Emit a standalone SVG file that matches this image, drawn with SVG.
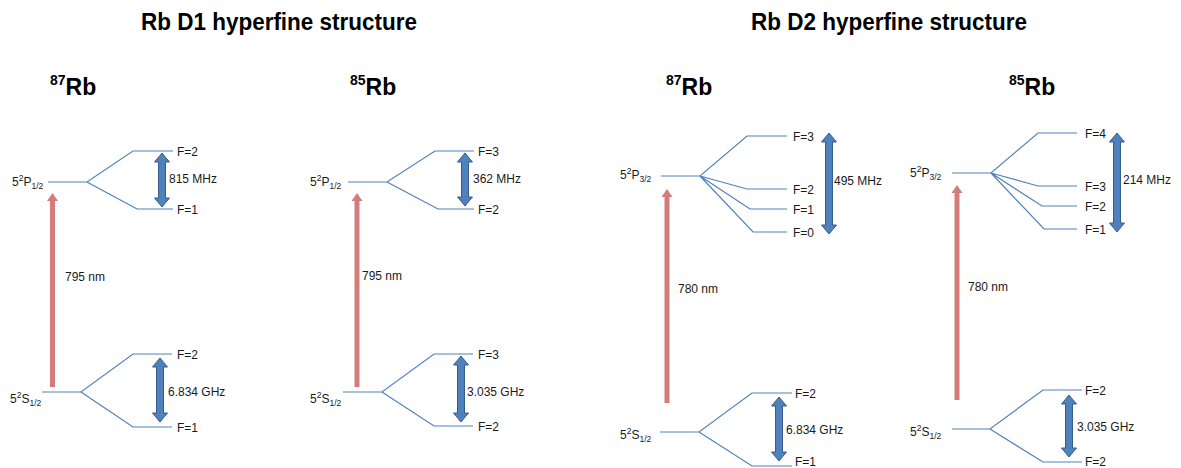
<svg xmlns="http://www.w3.org/2000/svg" width="1181" height="468" viewBox="0 0 1181 468">
<style>
text{font-family:"Liberation Sans",Arial,sans-serif;fill:#1a1a1a}
.t{font-size:12px}
.title{font-size:23px;font-weight:bold;fill:#000}
.iso{font-size:23px;font-weight:bold;fill:#000}
.sup{font-size:14px}
.s8{font-size:8.5px}
.lvl{fill:none;stroke:#4f81bd;stroke-width:1.2}
.split{fill:#4f81bd;stroke:#385d8a;stroke-width:1}
.laser{fill:#d47c7a}
</style>
<rect width="1181" height="468" fill="#fff"/>
<g id="titles">
<text class="title" x="279" y="30" text-anchor="middle" textLength="276" lengthAdjust="spacingAndGlyphs">Rb D1 hyperfine structure</text>
<text class="title" x="889" y="30" text-anchor="middle" textLength="276" lengthAdjust="spacingAndGlyphs">Rb D2 hyperfine structure</text>
</g>
<g id="isotopes">
<text class="iso" x="50" y="95"><tspan class="sup" dy="-10">87</tspan><tspan dy="10">Rb</tspan></text>
<text class="iso" x="350" y="95"><tspan class="sup" dy="-10">85</tspan><tspan dy="10">Rb</tspan></text>
<text class="iso" x="666" y="95"><tspan class="sup" dy="-10">87</tspan><tspan dy="10">Rb</tspan></text>
<text class="iso" x="1009" y="95"><tspan class="sup" dy="-10">85</tspan><tspan dy="10">Rb</tspan></text>
</g>
<g id="connectors">
<path class="lvl" d="M48,182H87L133,151H173M87,182L137,209H173"/>
<path class="lvl" d="M42,392H81L133,354H172M81,392L133,427H172"/>
<path class="lvl" d="M348,182H387L435,151H474M387,182L438,209H474"/>
<path class="lvl" d="M343,392H382L434,354H473M382,392L434,426H473"/>
<path class="lvl" d="M661,176H700L747,136H787M700,176L747,189H787M700,176L750,209H787M700,176L753,232H787"/>
<path class="lvl" d="M660,432H699L752,393H792M699,432L752,466H792"/>
<path class="lvl" d="M952,173H991L1038,133H1077M991,173L1038,186H1077M991,173L1042,206H1077M991,173L1044,229H1077"/>
<path class="lvl" d="M952,429H990L1043,390H1082M990,429L1043,462H1082"/>
<polygon class="laser" points="52.5,193 58,201 55,201 55,387 50,387 50,201 47,201"/>
<polygon class="laser" points="357,193 362.5,201 359.5,201 359.5,387 354.5,387 354.5,201 351.5,201"/>
<polygon class="laser" points="667,189 672.5,197 669.5,197 669.5,403 664.5,403 664.5,197 661.5,197"/>
<polygon class="laser" points="957,185 962.5,193 959.5,193 959.5,400 954.5,400 954.5,193 951.5,193"/>
<polygon class="split" points="162,153 169.5,162 165.5,162 165.5,198 169.5,198 162,207 154.5,198 158.5,198 158.5,162 154.5,162"/>
<polygon class="split" points="160,358 167.5,367 163.5,367 163.5,413 167.5,413 160,422 152.5,413 156.5,413 156.5,367 152.5,367"/>
<polygon class="split" points="465,153 472.5,162 468.5,162 468.5,197 472.5,197 465,206 457.5,197 461.5,197 461.5,162 457.5,162"/>
<polygon class="split" points="461,356 468.5,365 464.5,365 464.5,413 468.5,413 461,422 453.5,413 457.5,413 457.5,365 453.5,365"/>
<polygon class="split" points="829,133 836.5,142 832.5,142 832.5,225 836.5,225 829,234 821.5,225 825.5,225 825.5,142 821.5,142"/>
<polygon class="split" points="779,397 786.5,406 782.5,406 782.5,452 786.5,452 779,461 771.5,452 775.5,452 775.5,406 771.5,406"/>
<polygon class="split" points="1117,133 1124.5,142 1120.5,142 1120.5,223 1124.5,223 1117,232 1109.5,223 1113.5,223 1113.5,142 1109.5,142"/>
<polygon class="split" points="1069,395 1076.5,404 1072.5,404 1072.5,448 1076.5,448 1069,457 1061.5,448 1065.5,448 1065.5,404 1061.5,404"/>
</g>
<g id="rb87-d1">
<text class="t" x="12" y="186">5<tspan class="s8" dy="-5">2</tspan><tspan dy="5">P</tspan><tspan class="s8" dy="3">1/2</tspan></text>
<text class="t" x="10" y="403">5<tspan class="s8" dy="-5">2</tspan><tspan dy="5">S</tspan><tspan class="s8" dy="3">1/2</tspan></text>
<text class="t" x="177" y="155.5">F=2</text>
<text class="t" x="177" y="213.5">F=1</text>
<text class="t" x="177" y="358.5">F=2</text>
<text class="t" x="177" y="431.5">F=1</text>
<text class="t" x="169" y="182.5">815 MHz</text>
<text class="t" x="168" y="396">6.834 GHz</text>
<text class="t" x="65" y="281">795 nm</text>
</g>
<g id="rb85-d1">
<text class="t" x="310" y="186">5<tspan class="s8" dy="-5">2</tspan><tspan dy="5">P</tspan><tspan class="s8" dy="3">1/2</tspan></text>
<text class="t" x="310" y="403">5<tspan class="s8" dy="-5">2</tspan><tspan dy="5">S</tspan><tspan class="s8" dy="3">1/2</tspan></text>
<text class="t" x="478" y="155.5">F=3</text>
<text class="t" x="478" y="213.5">F=2</text>
<text class="t" x="478" y="358.5">F=3</text>
<text class="t" x="478" y="430.5">F=2</text>
<text class="t" x="473" y="182.5">362 MHz</text>
<text class="t" x="467" y="396">3.035 GHz</text>
<text class="t" x="362" y="280">795 nm</text>
</g>
<g id="rb87-d2">
<text class="t" x="620" y="179">5<tspan class="s8" dy="-5">2</tspan><tspan dy="5">P</tspan><tspan class="s8" dy="3">3/2</tspan></text>
<text class="t" x="620" y="439">5<tspan class="s8" dy="-5">2</tspan><tspan dy="5">S</tspan><tspan class="s8" dy="3">1/2</tspan></text>
<text class="t" x="793" y="140.5">F=3</text>
<text class="t" x="793" y="193.5">F=2</text>
<text class="t" x="793" y="213.5">F=1</text>
<text class="t" x="793" y="236.5">F=0</text>
<text class="t" x="795" y="397.5">F=2</text>
<text class="t" x="795" y="466">F=1</text>
<text class="t" x="834" y="185">495 MHz</text>
<text class="t" x="786" y="434">6.834 GHz</text>
<text class="t" x="678" y="293">780 nm</text>
</g>
<g id="rb85-d2">
<text class="t" x="910" y="177">5<tspan class="s8" dy="-5">2</tspan><tspan dy="5">P</tspan><tspan class="s8" dy="3">3/2</tspan></text>
<text class="t" x="910" y="436">5<tspan class="s8" dy="-5">2</tspan><tspan dy="5">S</tspan><tspan class="s8" dy="3">1/2</tspan></text>
<text class="t" x="1085" y="137.5">F=4</text>
<text class="t" x="1085" y="190.5">F=3</text>
<text class="t" x="1085" y="210.5">F=2</text>
<text class="t" x="1085" y="233.5">F=1</text>
<text class="t" x="1085" y="394.5">F=2</text>
<text class="t" x="1085" y="465.5">F=2</text>
<text class="t" x="1123" y="184">214 MHz</text>
<text class="t" x="1077" y="431">3.035 GHz</text>
<text class="t" x="968" y="291">780 nm</text>
</g>
</svg>
